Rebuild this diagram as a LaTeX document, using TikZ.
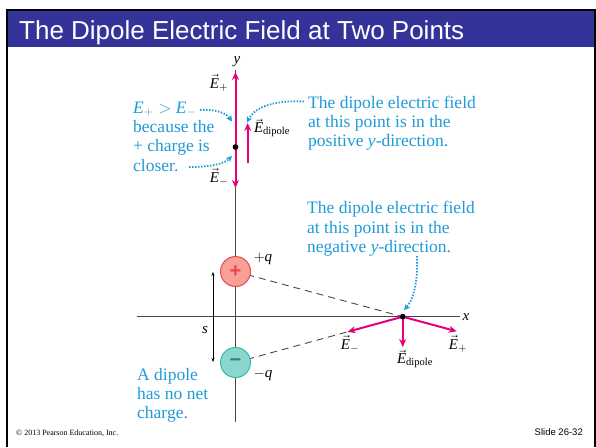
\documentclass[tikz,border=0pt]{standalone}
\usepackage{amsmath}
\usepackage{fontspec}
\setmainfont{Liberation Serif}
\newfontfamily\slidesans{Liberation Sans}
\usetikzlibrary{arrows.meta, calc}

\definecolor{titleblue}{RGB}{51,51,153}
\definecolor{notecyan}{RGB}{30,155,215}
\definecolor{fieldpink}{RGB}{230,0,126}
\definecolor{posfill}{RGB}{246,160,150}
\definecolor{posdraw}{RGB}{232,70,80}
\definecolor{negfill}{RGB}{140,215,205}
\definecolor{negdraw}{RGB}{50,185,175}
\definecolor{axisgray}{RGB}{70,70,70}

\newcommand{\Evec}{\vec{\textit{E}}}

\begin{document}
\begin{tikzpicture}[x=1pt, y=-1pt,
  note/.style={text=notecyan, font=\fontsize{17.5}{19.3}\selectfont,
               align=left, inner sep=0pt, anchor=north west},
  lab/.style={font=\fontsize{15}{17}\selectfont, inner sep=0pt},
  axis/.style={axisgray, line width=1.1pt},
  field/.style={-{Stealth[length=8pt, width=7pt]}, draw=fieldpink,
                line width=2pt},
  hint/.style={-{Stealth[length=6pt, width=6pt]}, notecyan,
               line width=1.8pt, dash pattern=on 1.5pt off 1.5pt},
  guide/.style={axisgray, line width=0.9pt, dash pattern=on 7pt off 5pt},
  dot/.style={circle, fill=black, inner sep=0pt, minimum size=5.5pt},
  charge/.style={circle, line width=1pt, minimum size=30pt, inner sep=0pt,
                 font=\slidesans\bfseries\fontsize{20}{20}\selectfont},
  sep/.style={{Stealth[length=4pt, width=3pt]}-{Stealth[length=4pt, width=3pt]},
              line width=0.5pt},
]
\useasboundingbox (0,0) rectangle (596,447);

% --- Title bar ---
\node[fill=titleblue, minimum width=587pt, minimum height=37pt,
      anchor=north west, inner sep=0pt] (bar) at (8,10) {};
\node[anchor=base west, text=white, inner sep=0pt,
      font=\slidesans\fontsize{26}{28}\selectfont] (title) at (19,39.5)
  {The Dipole Electric Field at Two Points};
\draw[line width=2pt] (7,447) -- (7,10) -- (595,10) -- (595,447);

% --- Axes ---
\coordinate (ytop) at (235.5,70);
\coordinate (ybot) at (235.5,422);
\coordinate (xleft) at (137,316.7);
\coordinate (xright) at (460,316.7);
\draw[axis] (ytop) -- (ybot);
\draw[axis] (xleft) -- (xright);
\node[lab] (ylab) at (237,62) {\textit{y}};
\node[lab] (xlab) at (466,317) {\textit{x}};

% --- Charges ---
\node[dot] (P1) at (235.5,147) {};
\node[dot] (P2) at (402.7,316.7) {};
\coordinate (qpos) at (235.5,271.5);
\coordinate (qneg) at (235.5,362.5);
\coordinate (Ep2) at ($(qpos)!1.323!(P2)$);
\coordinate (Em2) at ($(P2)!0.33!(qneg)$);
\draw[guide] (qpos) -- (P2);
\draw[guide] (qneg) -- (Em2);
\node[charge, fill=posfill, draw=posdraw, text=posdraw] (qp) at (qpos) {+};
\node[charge, fill=negfill, draw=negdraw, text=negdraw!75!black] (qm) at (qneg) {−};
\node[lab] (qplab) at (263,259) {$+$\textit{q}};
\node[lab] (qmlab) at (263,375) {$-$\textit{q}};

% separation s
\coordinate (stop) at (213,272);
\coordinate (sbot) at (213,362);
\draw[sep] (stop) -- (sbot);
\node[lab] (slab) at (205,330) {\textit{s}};

% --- Field on the y-axis ---
\coordinate (Ep1) at (235.5,72);
\coordinate (Em1) at (235.5,188);
\coordinate (Ed1a) at (247.7,163);
\coordinate (Ed1b) at (247.7,123);
\draw[field] (P1.center) -- (Ep1);
\draw[field] (P1.center) -- (Em1);
\draw[field] (Ed1a) -- (Ed1b);
\node[dot] at (P1) {};
\node[lab] (Ep1lab) at (219,83) {$\Evec_{+}$};
\node[lab] (Em1lab) at (219,177) {$\Evec_{-}$};
\node[lab] (Ed1lab) at (272,128) {$\Evec_{\text{dipole}}$};

% --- Field on the x-axis ---
\coordinate (Ed2) at (402.7,347);
\draw[field] (P2.center) -- (Ep2);
\draw[field] (P2.center) -- (Em2);
\draw[field] (P2.center) -- (Ed2);
\node[dot] at (P2) {};
\node[lab] (Em2lab) at (350,344) {$\Evec_{-}$};
\node[lab] (Ed2lab) at (415,359) {$\Evec_{\text{dipole}}$};
\node[lab] (Ep2lab) at (458,344) {$\Evec_{+}$};

% --- Notes ---
\node[note] (nleft) at (133,101.7) {%
  \textit{E}$_+ >$ \textit{E}$_-$\\
  because the\\
  + charge is\\
  closer.};
\node[note] (nup) at (308,95.5) {%
  The dipole electric field\\
  at this point is in the\\
  positive \textit{y}-direction.};
\node[note] (ndown) at (307,201.3) {%
  The dipole electric field\\
  at this point is in the\\
  negative \textit{y}-direction.};
\node[note] (nnet) at (137,368) {%
  A dipole\\
  has no net\\
  charge.};

% dotted pointers
\coordinate (h1a) at (200,110);
\coordinate (h1b) at (232,121.5);
\coordinate (h2a) at (189,167);
\coordinate (h2b) at (232,156);
\coordinate (h3a) at (304,101.5);
\coordinate (h3b) at (247,122.5);
\coordinate (h4a) at (417,256);
\coordinate (h4b) at (404,310);
\draw[hint] (h1a) .. controls (218,109) and (227,114) .. (h1b);
\draw[hint] (h2a) .. controls (210,167) and (224,164) .. (h2b);
\draw[hint] (h3a) .. controls (272,100) and (254,108) .. (h3b);
\draw[hint] (h4a) .. controls (418,284) and (413,300) .. (h4b);

% --- Footer ---
\node[anchor=base west, inner sep=0pt, font=\fontsize{8}{9}\selectfont]
  (copy) at (16,435) {© 2013 Pearson Education, Inc.};
\node[anchor=base east, inner sep=0pt,
      font=\slidesans\fontsize{9.5}{10}\selectfont]
  (slide) at (583,435) {Slide 26-32};

\end{tikzpicture}
\end{document}
